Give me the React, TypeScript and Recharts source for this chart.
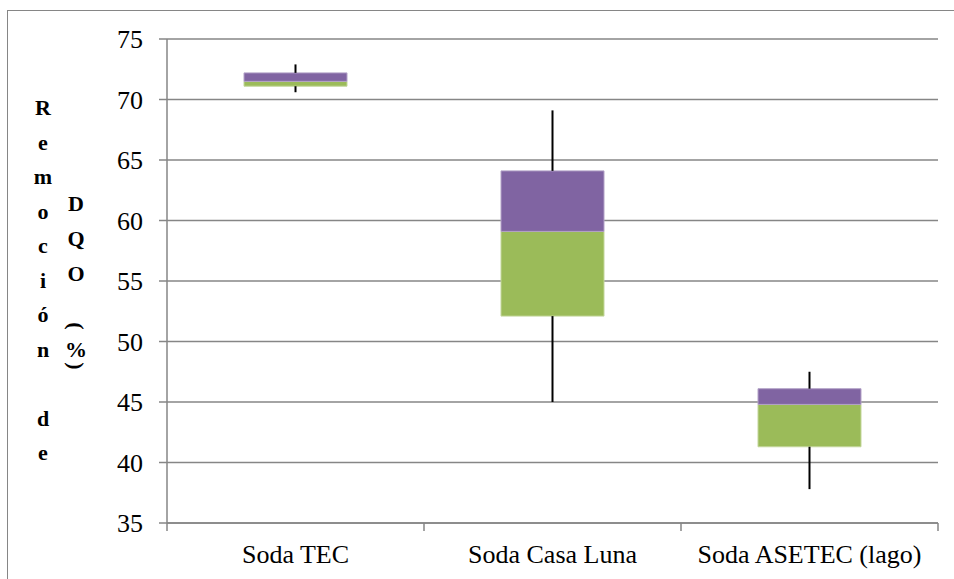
import React from 'react';
import {
  ComposedChart, Bar, Line, ErrorBar, XAxis, YAxis, CartesianGrid,
} from 'recharts';

const categories = ['Soda TEC', 'Soda Casa Luna', 'Soda ASETEC (lago)'];
const minVals = [70.6, 45.0, 37.8];
const q1Vals = [71.1, 52.1, 41.3];
const medianVals = [71.5, 59.1, 44.8];
const q3Vals = [72.2, 64.1, 46.1];
const maxVals = [72.9, 69.1, 47.5];

const yTicks = [35, 40, 45, 50, 55, 60, 65, 70, 75];
const xTicks = [0, 0.5, 1, 1.5, 2, 2.5, 3];

const titleCol1 = ['R', 'e', 'm', 'o', 'c', 'i', 'ó', 'n', '', 'd', 'e'];
const titleCol2 = ['D', 'Q', 'O'];

const GREEN = '#9bbb59';
const PURPLE = '#8064a2';
const AXIS = '#868686';
const SERIF = 'Liberation Serif';

// box plot built as stacked bars: invisible base, lower box, upper box
// whiskers: error bars hanging off the box edges
const data = categories.map((name, i) => ({
  x: i + 0.5,
  name,
  base: q1Vals[i],
  lowerBox: medianVals[i] - q1Vals[i],
  upperBox: q3Vals[i] - medianVals[i],
  q1: q1Vals[i],
  q3: q3Vals[i],
  lowWhisker: [q1Vals[i] - minVals[i], 0],
  highWhisker: [0, maxVals[i] - q3Vals[i]],
}));

function XTick(props: any) {
  const { x, y, payload } = props;
  const v = payload.value;
  if (Number.isInteger(v)) {
    return <line x1={x} x2={x} y1={y} y2={y + 8} stroke={AXIS} strokeWidth={1.5} />;
  }
  const idx = Math.floor(v);
  return (
    <text x={x} y={y + 40} textAnchor="middle" fill="#000" fontSize={26} fontFamily={SERIF}>
      {categories[idx]}
    </text>
  );
}

export default function App() {
  return (
    <div style={{ position: 'relative', width: 954, height: 579, overflow: 'hidden', background: '#fff' }}>
      <style>{'body{margin:0;overflow:hidden}'}</style>
      <div
        style={{
          position: 'absolute', left: 7, top: 10, width: 1000, height: 700,
          border: `1px solid ${AXIS}`, boxSizing: 'border-box',
        }}
      />
      <div style={{ position: 'absolute', left: 0, top: 0 }}>
        <ComposedChart
          width={954}
          height={579}
          data={data}
          margin={{ top: 39, right: 16, bottom: 16, left: 100 }}
        >
          <CartesianGrid vertical={false} stroke={AXIS} strokeWidth={1.5} />
          <XAxis
            type="number"
            dataKey="x"
            domain={[0, 3]}
            ticks={xTicks}
            interval={0}
            height={40}
            tickSize={0}
            tickMargin={0}
            tickLine={false}
            axisLine={{ stroke: AXIS, strokeWidth: 1.5 }}
            tick={(p: any) => <XTick {...p} />}
          />
          <YAxis
            type="number"
            domain={[35, 75]}
            ticks={yTicks}
            interval={0}
            width={67}
            tickSize={8}
            tickMargin={16}
            axisLine={{ stroke: AXIS, strokeWidth: 1.5 }}
            tickLine={{ stroke: AXIS, strokeWidth: 1.5 }}
            tick={{ fill: '#000', fontSize: 26, fontFamily: SERIF }}
            allowDataOverflow
          />
          <Bar dataKey="base" stackId="box" fill="transparent" barSize={103} isAnimationActive={false} />
          <Bar dataKey="lowerBox" stackId="box" fill={GREEN} stroke="#c3d69b" strokeWidth={1} barSize={103} isAnimationActive={false} />
          <Bar dataKey="upperBox" stackId="box" fill={PURPLE} stroke="#b3a2c7" strokeWidth={1} barSize={103} isAnimationActive={false} />
          <Line dataKey="q3" stroke="none" dot={false} activeDot={false} isAnimationActive={false}>
            <ErrorBar dataKey="highWhisker" width={0} stroke="#000" strokeWidth={2} direction="y" />
          </Line>
          <Line dataKey="q1" stroke="none" dot={false} activeDot={false} isAnimationActive={false}>
            <ErrorBar dataKey="lowWhisker" width={0} stroke="#000" strokeWidth={2} direction="y" />
          </Line>
        </ComposedChart>
      </div>
      <svg
        width={954}
        height={579}
        style={{ position: 'absolute', left: 0, top: 0, pointerEvents: 'none' }}
      >
        <g fontWeight="bold" fontSize={22} fill="#000" textAnchor="middle" fontFamily={SERIF}>
          {titleCol1.map((ch, i) => (
            <text key={`c1-${i}`} x={43} y={115 + i * 34.5}>{ch}</text>
          ))}
          {titleCol2.map((ch, i) => (
            <text key={`c2-${i}`} x={76} y={211 + i * 35}>{ch}</text>
          ))}
          <text x={0} y={0} dominantBaseline="central" transform="translate(76,326) rotate(90)">(</text>
          <text x={76} y={357}>%</text>
          <text x={0} y={0} dominantBaseline="central" transform="translate(76,366) rotate(90)">)</text>
        </g>
      </svg>
    </div>
  );
}
